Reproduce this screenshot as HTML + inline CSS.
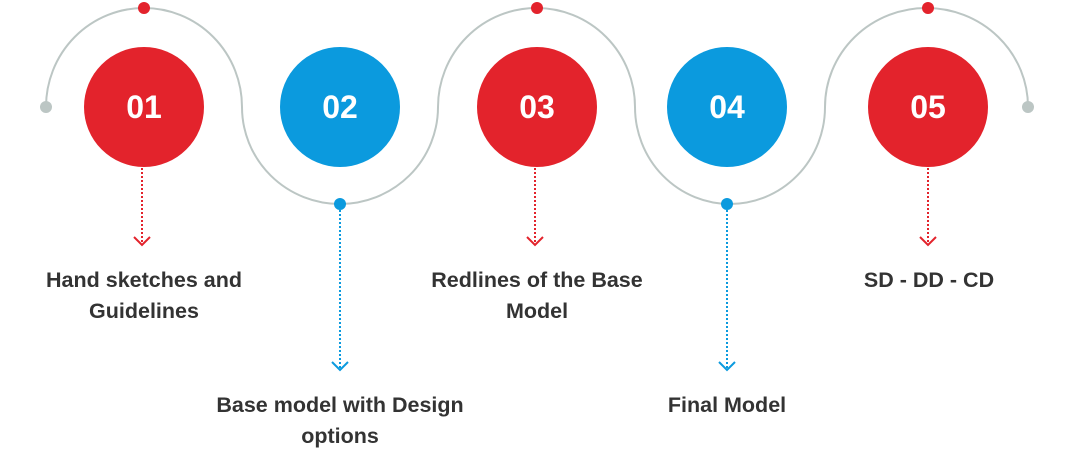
<!DOCTYPE html>
<html><head><style>
body{margin:0;width:1074px;height:451px;background:#fff;overflow:hidden;position:relative;font-family:"Liberation Sans",sans-serif}
.t{position:absolute;font-size:21.5px;font-weight:bold;color:#333;text-align:center;line-height:31px;width:320px}
</style></head><body>
<svg width="1074" height="451" style="position:absolute;left:0;top:0">
<g fill="none" stroke="#bcc6c4" stroke-width="2">
<path d="M46 107 A98 99 0 0 1 242 107 A98 97 0 0 0 438 107 A98.5 99 0 0 1 635 107 A95 97 0 0 0 825 107 A101.5 99 0 0 1 1028 107"/>
</g>
<circle cx="46" cy="107" r="6" fill="#bcc6c4"/>
<circle cx="1028" cy="107" r="6" fill="#bcc6c4"/>
<circle cx="144" cy="8" r="6" fill="#e3232c"/>
<circle cx="537" cy="8" r="6" fill="#e3232c"/>
<circle cx="928" cy="8" r="6" fill="#e3232c"/>
<circle cx="340" cy="204" r="6" fill="#0b9ade"/>
<circle cx="727" cy="204" r="6" fill="#0b9ade"/>
<g font-family="Liberation Sans,sans-serif" font-size="32" font-weight="bold" fill="#fff" text-anchor="middle">
<circle cx="144" cy="107" r="60" fill="#e3232c"/><text x="144" y="118">01</text>
<circle cx="340" cy="107" r="60" fill="#0b9ade"/><text x="340" y="118">02</text>
<circle cx="537" cy="107" r="60" fill="#e3232c"/><text x="537" y="118">03</text>
<circle cx="727" cy="107" r="60" fill="#0b9ade"/><text x="727" y="118">04</text>
<circle cx="928" cy="107" r="60" fill="#e3232c"/><text x="928" y="118">05</text>
</g>
<g stroke-width="2" fill="none" stroke-dasharray="2 2">
<path d="M142 168 V244" stroke="#e3232c"/>
<path d="M535 168 V244" stroke="#e3232c"/>
<path d="M928 168 V244" stroke="#e3232c"/>
<path d="M340 210 V370" stroke="#0b9ade"/>
<path d="M727 210 V370" stroke="#0b9ade"/>
</g>
<g stroke-width="2" fill="none">
<path d="M134 237 L142 245 L150 237" stroke="#e3232c"/>
<path d="M527 237 L535 245 L543 237" stroke="#e3232c"/>
<path d="M920 237 L928 245 L936 237" stroke="#e3232c"/>
<path d="M332 362 L340 370 L348 362" stroke="#0b9ade"/>
<path d="M719 362 L727 370 L735 362" stroke="#0b9ade"/>
</g>
</svg>
<div class="t" style="left:-16px;top:265px">Hand sketches and<br>Guidelines</div>
<div class="t" style="left:377px;top:265px">Redlines of the Base<br>Model</div>
<div class="t" style="left:769px;top:265px">SD - DD - CD</div>
<div class="t" style="left:180px;top:390px">Base model with Design<br>options</div>
<div class="t" style="left:567px;top:390px">Final Model</div>
</body></html>
